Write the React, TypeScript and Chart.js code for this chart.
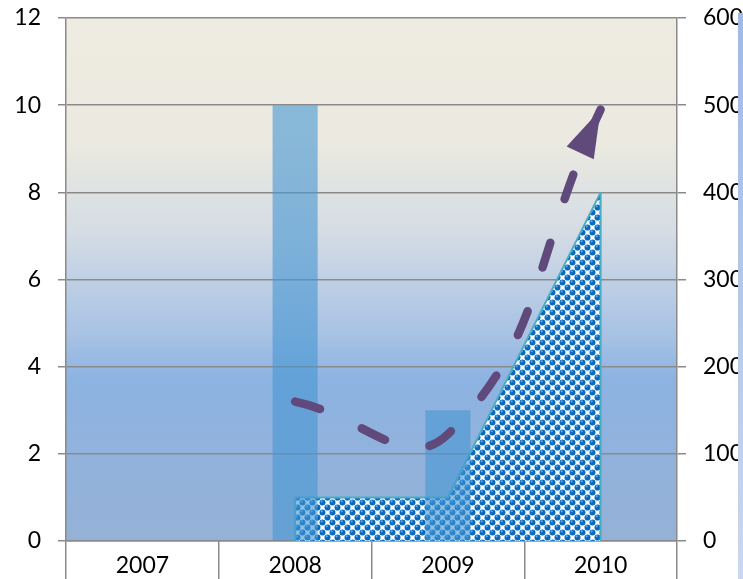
import { useEffect, useRef } from "react";
import { Chart, registerables } from "chart.js";

Chart.register(...registerables);

const categories = ["2007", "2008", "2009", "2010"];
const barValues: (number | null)[] = [null, 10, 3, null];
const areaValues: (number | null)[] = [null, 1, 1, 8];
const trendValues: (number | null)[] = [null, 3.2, 2.45, 9.9];
const leftTicks = [0, 2, 4, 6, 8, 10, 12];
const rightTicks = [0, 100, 200, 300, 400, 500, 600];

const FONT = { family: "Lato, 'Open Sans', sans-serif", size: 23 };
const GRID = "#8a8a8a";

function makePattern(): CanvasPattern | string {
  const S = 10;
  const c = document.createElement("canvas");
  c.width = S;
  c.height = S;
  const g = c.getContext("2d");
  if (!g) return "#0070C0";
  g.fillStyle = "#ffffff";
  g.fillRect(0, 0, S, S);
  const centers = [
    [2.5, 2.5],
    [7.5, 7.5],
    [12.5, 2.5],
    [-2.5, 7.5],
    [2.5, 12.5],
    [7.5, -2.5],
  ];
  for (const [cx, cy] of centers) {
    g.fillStyle = "#0868bd";
    g.beginPath();
    g.arc(cx, cy, 3.0, 0, Math.PI * 2);
    g.fill();
  }
  for (const [cx, cy] of centers) {
    g.fillStyle = "#63a8e2";
    g.beginPath();
    g.arc(cx - 0.8, cy - 1.2, 1.1, 0, Math.PI * 2);
    g.fill();
  }
  const p = g.createPattern(c, "repeat");
  return p || "#0070C0";
}

const bgPlugin = {
  id: "plotBg",
  beforeDraw(chart: any) {
    const { ctx, chartArea } = chart;
    if (!chartArea) return;
    const { left, top, right, bottom } = chartArea;
    const gr = ctx.createLinearGradient(0, top, 0, bottom);
    gr.addColorStop(0, "#EEECE1");
    gr.addColorStop(0.23, "#ECEAE0");
    gr.addColorStop(0.41, "#D4DCE4");
    gr.addColorStop(0.6, "#A9C3E4");
    gr.addColorStop(0.69, "#8DB3E2");
    gr.addColorStop(1, "#95B1D6");
    ctx.save();
    ctx.fillStyle = gr;
    ctx.fillRect(left, top, right - left, bottom - top);
    ctx.restore();
  },
};

const edgePlugin = {
  id: "areaEdges",
  afterDatasetDraw(chart: any, args: any) {
    if (args.index !== 2) return;
    const meta = chart.getDatasetMeta(2);
    const pts = meta.data.filter((p: any) => !p.skip);
    if (pts.length < 2) return;
    const base = chart.scales.y.getPixelForValue(0);
    const { ctx } = chart;
    ctx.save();
    ctx.strokeStyle = "#4BACC6";
    ctx.lineWidth = 2;
    for (const p of [pts[0], pts[pts.length - 1]]) {
      ctx.beginPath();
      ctx.moveTo(p.x, p.y);
      ctx.lineTo(p.x, base);
      ctx.stroke();
    }
    ctx.restore();
  },
};

const arrowPlugin = {
  id: "arrowHead",
  afterDatasetsDraw(chart: any) {
    const meta = chart.getDatasetMeta(0);
    const pts = meta.data.filter((p: any) => !p.skip);
    if (!pts.length) return;
    const last = pts[pts.length - 1];
    let dx = last.x - (last.cp1x ?? last.x);
    let dy = last.y - (last.cp1y ?? last.y);
    const len = Math.hypot(dx, dy) || 1;
    dx /= len;
    dy /= len;
    const L = 48;
    const W = 15;
    const bx = last.x - dx * L;
    const by = last.y - dy * L;
    const nx = -dy;
    const ny = dx;
    const { ctx } = chart;
    ctx.save();
    ctx.fillStyle = "#604A7B";
    ctx.beginPath();
    ctx.moveTo(last.x, last.y);
    ctx.lineTo(bx + nx * W, by + ny * W);
    ctx.lineTo(bx - nx * W, by - ny * W);
    ctx.closePath();
    ctx.fill();
    ctx.restore();
  },
};

function fitY(s: any) {
  s.width = 66;
  s.paddingTop = 0;
  s.paddingBottom = 0;
}

export default function App() {
  const ref = useRef<HTMLCanvasElement | null>(null);

  useEffect(() => {
    if (!ref.current) return;
    const pattern = makePattern();
    const chart = new Chart(ref.current, {
      data: {
        labels: categories,
        datasets: [
          {
            type: "line",
            label: "trend",
            data: trendValues,
            yAxisID: "y",
            borderColor: "#604A7B",
            borderWidth: 8.5,
            borderDash: [26, 46],
            borderCapStyle: "round",
            pointRadius: 0,
            tension: 0.45,
            fill: false,
            order: 0,
          } as any,
          {
            type: "bar",
            label: "bars",
            data: barValues,
            yAxisID: "y",
            backgroundColor: "rgba(70,150,210,0.6)",
            barPercentage: 0.295,
            categoryPercentage: 1,
            order: 1,
          } as any,
          {
            type: "line",
            label: "area",
            data: areaValues,
            yAxisID: "y",
            borderColor: "#4BACC6",
            borderWidth: 2,
            backgroundColor: pattern,
            fill: "origin",
            pointRadius: 0,
            tension: 0,
            order: 2,
          } as any,
        ],
      },
      options: {
        animation: false,
        responsive: true,
        maintainAspectRatio: false,
        layout: { padding: { top: 18, left: 0, right: 0, bottom: 0 } },
        plugins: {
          legend: { display: false },
          tooltip: { enabled: false },
        },
        scales: {
          x: {
            type: "category",
            offset: true,
            grid: {
              offset: true,
              drawOnChartArea: false,
              drawTicks: true,
              tickLength: 40,
              color: GRID,
              lineWidth: 1.5,
            },
            border: { color: GRID, width: 1.5 },
            ticks: { padding: -29, font: FONT, color: "#000" },
            afterFit(s: any) {
              s.height = 38;
              s.paddingLeft = 0;
              s.paddingRight = 0;
            },
          },
          y: {
            type: "linear",
            position: "left",
            min: leftTicks[0],
            max: leftTicks[leftTicks.length - 1],
            ticks: {
              stepSize: leftTicks[1] - leftTicks[0],
              padding: 17,
              font: FONT,
              color: "#000",
            },
            grid: { color: GRID, lineWidth: 1.5, tickLength: 8 },
            border: { color: GRID, width: 1.5 },
            afterFit: fitY,
          },
          y1: {
            type: "linear",
            position: "right",
            min: rightTicks[0],
            max: rightTicks[rightTicks.length - 1],
            ticks: {
              stepSize: rightTicks[1] - rightTicks[0],
              padding: 17,
              font: FONT,
              color: "#000",
            },
            grid: {
              drawOnChartArea: false,
              color: GRID,
              lineWidth: 1.5,
              tickLength: 9,
            },
            border: { color: GRID, width: 1.5 },
            afterFit: fitY,
          },
        },
      } as any,
      plugins: [bgPlugin, edgePlugin, arrowPlugin],
    });
    return () => chart.destroy();
  }, []);

  return (
    <div
      style={{
        position: "fixed",
        left: 0,
        top: 0,
        width: 743,
        height: 579,
        background: "#fff",
        overflow: "hidden",
      }}
    >
      <canvas ref={ref} />
      <div
        style={{
          position: "absolute",
          left: 738,
          top: 13,
          width: 5,
          height: 566,
          background: "linear-gradient(#A0B9E6, #CAD7EF)",
        }}
      />
    </div>
  );
}
